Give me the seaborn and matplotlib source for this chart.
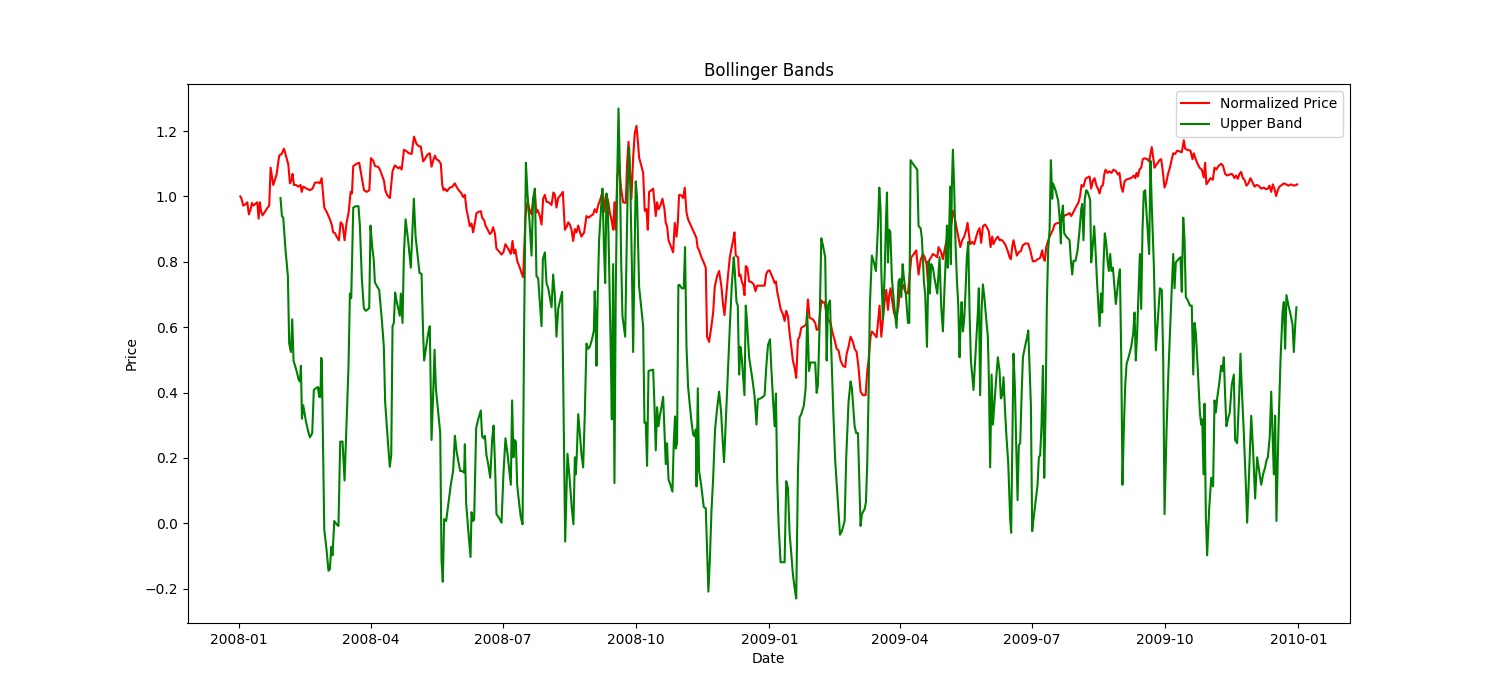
import matplotlib
matplotlib.use("Agg")
import matplotlib.pyplot as plt
import matplotlib.dates as mdates
import pandas as pd
import seaborn as sns

# ---- data: day offsets from 2008-01-01 and values ----
start_date = "2008-01-01"

red_days = [
    1.0, 1.8, 3.0, 4.8, 5.8, 6.9, 8.1, 9.0, 9.9, 11.3,
    12.7, 13.6, 14.5, 15.2, 16.3, 19.1, 20.9, 21.9, 23.7, 26.0,
    27.8, 29.5, 31.1, 32.4, 34.1, 35.2, 36.4, 37.0, 38.0, 39.3,
    41.0, 42.6, 43.3, 44.4, 46.7, 49.0, 50.8, 52.5, 54.8, 55.9,
    57.1, 58.9, 60.5, 62.8, 64.0, 65.1, 66.3, 67.4, 69.0, 70.2,
    71.5, 72.9, 74.3, 75.7, 77.1, 78.0, 78.9, 81.2, 83.0, 84.4,
    86.3, 88.1, 90.0, 91.1, 92.7, 93.9, 96.2, 97.3, 98.5, 100.1,
    101.0, 102.4, 104.2, 106.0, 107.6, 110.0, 111.1, 112.3, 113.9, 115.7,
    117.3, 119.2, 120.8,
    122.5, 124.2, 125.5, 127.1, 128.3, 130.1, 131.7, 132.9, 134.0, 135.2,
    136.3, 138.0, 139.3, 140.3, 141.2, 142.1, 143.5, 145.5, 147.1, 149.0,
    150.1, 151.7, 153.6, 154.7, 155.9, 157.0, 158.2, 159.3, 160.5, 161.6,
    162.8, 163.9, 165.5, 166.9, 167.8, 169.2, 170.1, 171.5, 173.1, 174.3,
    175.4, 176.6, 177.7, 179.3, 181.2, 182.5, 183.9, 185.8, 187.6, 188.8,
    189.7, 190.8, 192.0, 193.4, 195.0, 196.1, 196.8, 197.7, 199.1, 200.5,
    201.9, 203.0, 204.2, 205.1, 206.0, 207.6, 208.8, 209.9, 211.1, 212.2,
    213.8, 215.7, 217.0, 218.0, 219.1, 220.3, 222.1, 223.5, 224.9, 226.0,
    227.2, 228.3, 229.5, 230.6, 231.8, 232.9, 234.1, 235.2, 236.3, 238.2,
    239.8, 241.4,
    242.6, 244.4, 245.5, 246.7, 247.8, 249.5, 250.8, 252.0, 253.1, 254.7,
    255.9, 257.0, 258.2, 259.1, 260.0, 261.0, 262.3, 263.7, 265.1, 266.9,
    267.8, 268.8, 269.7, 270.8, 272.0, 273.1, 274.3, 275.4, 276.1, 277.7,
    278.9, 280.0, 281.2, 282.1, 283.0, 284.6, 285.8, 286.9, 287.6, 288.5,
    289.5, 290.8, 292.2, 293.6, 294.5, 295.4, 296.4, 297.7, 299.6, 300.7,
    301.9, 302.8, 303.7, 305.3, 306.5, 307.6, 308.8, 309.9, 311.5, 312.9,
    314.5, 315.7, 316.4, 317.5, 319.1, 320.7, 322.1, 323.0, 324.4, 326.0,
    327.2, 328.3, 329.9, 331.3, 332.9, 334.1, 335.0, 336.4, 337.5, 338.7,
    339.8, 341.0, 341.9, 342.8, 344.4, 345.1, 346.0, 346.9, 347.9, 348.8,
    349.7, 350.8, 352.0, 353.6, 355.2, 356.4, 357.5, 359.3, 361.6,
    362.7, 363.8, 365.0, 366.1, 367.3, 368.4, 369.6, 370.5, 371.4, 372.4,
    373.7, 375.3, 376.5, 377.6, 378.8, 379.9, 381.1, 382.2, 383.4, 384.5,
    385.7, 386.8, 388.0, 389.8, 391.4, 392.6, 393.7, 396.0, 397.6, 398.6,
    399.9, 401.8, 402.9, 404.1, 405.2, 406.4, 408.2, 409.6, 411.0, 412.4,
    413.7, 415.1, 416.7, 418.3, 419.3, 420.6, 422.0, 423.6, 424.8, 426.2,
    427.5, 428.9, 430.5, 432.4, 433.5, 434.4, 435.8, 436.7, 438.6, 439.9,
    440.9, 442.0, 443.2, 444.3, 445.5, 446.6, 447.8, 448.7, 449.6, 450.5,
    451.9, 453.5, 455.1, 456.0, 457.4, 458.3, 459.7, 461.6, 462.7, 463.9,
    465.7, 467.3, 468.9, 470.3, 471.9, 473.1, 474.4, 475.4, 476.3, 477.6,
    478.8, 480.4, 481.8, 482.7,
    484.5, 485.7, 486.8, 488.5, 489.8, 490.8, 491.7, 492.6, 493.7, 494.9,
    496.3, 497.7, 499.0, 500.4, 501.8, 502.7, 503.6, 504.5, 505.9, 507.3,
    508.7, 509.8, 511.0, 512.1, 513.3, 514.7, 516.0, 517.4, 518.6, 519.7,
    520.6, 522.0, 523.6, 524.8, 525.9, 527.5, 528.9, 530.3, 531.7, 532.6,
    533.5, 534.4, 535.4, 536.7, 538.1, 539.5, 540.9, 542.7, 544.5, 545.9,
    546.8, 547.8, 549.6, 551.2, 552.8, 554.2, 555.1, 556.0, 557.0, 558.1,
    559.3, 560.4, 561.6, 562.7, 563.9, 565.2, 566.6, 568.0, 569.6, 571.2,
    573.1, 574.2, 575.4, 576.7, 578.1, 579.3, 580.4, 581.3, 582.7, 584.1,
    585.5, 586.9, 588.0, 589.2, 590.3, 591.5, 592.8, 593.8, 594.9, 596.1,
    597.0, 597.9, 599.3, 600.6, 602.0, 603.4,
    605.2, 606.4, 607.5, 608.7, 609.8, 611.0, 612.1, 613.8, 615.6, 617.4,
    618.4, 619.3, 620.2, 621.3, 622.5, 623.6, 624.8, 626.6, 628.0, 628.9,
    629.8, 630.8, 631.7, 632.8, 634.0, 635.1, 636.3, 637.4, 638.6, 639.7,
    640.9, 642.3, 643.6, 644.6, 645.9, 647.3, 648.9, 650.5, 651.9, 652.8,
    654.7, 656.5, 657.9, 658.8, 659.7, 661.1, 662.7, 664.3, 665.7, 666.6,
    667.5, 668.9, 670.3, 671.9, 673.1, 674.4, 675.8, 677.7, 679.0, 680.4,
    681.8, 683.4, 685.0, 685.9, 686.9, 688.0, 689.2, 690.3, 691.5, 692.6,
    693.8, 695.1, 696.5, 697.9, 699.3, 700.7, 702.0, 703.4, 705.3, 707.1,
    708.7, 709.9, 711.0, 712.2, 713.3, 714.5, 715.6, 716.7, 717.9, 719.5,
    720.9, 722.5, 724.1, 725.9, 727.8, 729.4, 730.1,
]

red_values = [
    1.000, 0.993, 0.972, 0.977, 0.982, 0.945, 0.961, 0.980, 0.972, 0.977,
    0.982, 0.932, 0.982, 0.956, 0.942, 0.961, 0.972, 1.088, 1.035, 1.067,
    1.125, 1.130, 1.146, 1.125, 1.098, 1.040, 1.051, 1.069, 1.035, 1.035,
    1.030, 1.035, 1.014, 1.030, 1.024, 1.019, 1.024, 1.042, 1.043, 1.040,
    1.056, 0.966, 0.953, 0.930, 0.914, 0.890, 0.888, 0.877, 0.866, 0.921,
    0.914, 0.866, 0.919, 0.951, 1.014, 1.009, 1.093, 1.100, 1.103, 1.067,
    1.019, 1.014, 1.019, 1.117, 1.109, 1.093, 1.090, 1.082, 1.067, 1.048,
    1.019, 1.003, 0.995, 1.077, 1.095, 1.086, 1.090, 1.082, 1.143, 1.138,
    1.132, 1.130, 1.183,
    1.161, 1.153, 1.153, 1.107, 1.114, 1.128, 1.132, 1.091, 1.109, 1.125,
    1.114, 1.109, 1.100, 1.035, 1.019, 1.024, 1.016, 1.027, 1.029, 1.040,
    1.030, 1.019, 1.009, 0.998, 1.005, 0.961, 0.935, 0.909, 0.917, 0.890,
    0.919, 0.949, 0.953, 0.955, 0.935, 0.927, 0.911, 0.900, 0.885, 0.890,
    0.906, 0.887, 0.840, 0.833, 0.822, 0.829, 0.854, 0.840, 0.824, 0.864,
    0.826, 0.837, 0.803, 0.787, 0.766, 0.753, 0.835, 0.935, 0.982, 0.961,
    0.945, 0.993, 1.016, 0.951, 0.959, 0.940, 0.914, 0.993, 1.005, 0.984,
    0.982, 0.974, 1.012, 1.005, 0.966, 0.995, 1.005, 1.014, 0.898, 0.906,
    0.921, 0.914, 0.898, 0.864, 0.900, 0.890, 0.911, 0.893, 0.877, 0.890,
    0.940, 0.935,
    0.940, 0.945, 0.961, 0.951, 0.972, 0.993, 1.014, 0.953, 1.003, 0.988,
    0.951, 0.930, 0.898, 0.982, 0.898, 1.056, 1.098, 1.024, 0.982, 0.980,
    1.098, 1.167, 1.088, 0.993, 1.119, 1.193, 1.216, 1.162, 1.119, 1.093,
    1.072, 0.956, 0.961, 0.898, 1.014, 1.019, 1.024, 0.972, 0.940, 0.982,
    0.961, 0.972, 0.993, 0.961, 0.919, 0.909, 0.866, 0.851, 0.829, 0.919,
    0.877, 0.919, 1.005, 1.003, 0.995, 1.027, 0.951, 0.930, 0.914, 0.900,
    0.885, 0.872, 0.845, 0.835, 0.814, 0.798, 0.782, 0.571, 0.555, 0.603,
    0.645, 0.724, 0.756, 0.772, 0.724, 0.666, 0.637, 0.708, 0.761, 0.814,
    0.840, 0.866, 0.890, 0.819, 0.814, 0.756, 0.761, 0.740, 0.729, 0.698,
    0.787, 0.782, 0.740, 0.738, 0.731, 0.710, 0.727, 0.727, 0.727,
    0.727, 0.763, 0.772, 0.774, 0.761, 0.750, 0.735, 0.740, 0.708, 0.687,
    0.656, 0.640, 0.619, 0.650, 0.634, 0.582, 0.540, 0.498, 0.476, 0.445,
    0.561, 0.571, 0.598, 0.603, 0.608, 0.685, 0.629, 0.624, 0.613, 0.592,
    0.594, 0.682, 0.675, 0.677, 0.645, 0.624, 0.613, 0.582, 0.561, 0.534,
    0.529, 0.498, 0.482, 0.478, 0.519, 0.540, 0.571, 0.555, 0.534, 0.524,
    0.476, 0.403, 0.392, 0.392, 0.466, 0.498, 0.571, 0.587, 0.577, 0.569,
    0.613, 0.666, 0.571, 0.624, 0.677, 0.714, 0.653, 0.698, 0.719, 0.687,
    0.645, 0.624, 0.666, 0.714, 0.719, 0.729, 0.708, 0.703, 0.756, 0.814,
    0.824, 0.835, 0.761, 0.805, 0.824, 0.814, 0.793, 0.735, 0.805, 0.814,
    0.824, 0.819, 0.814, 0.845,
    0.829, 0.808, 0.835, 0.872, 0.877, 0.898, 0.919, 0.956, 0.940, 0.909,
    0.877, 0.845, 0.866, 0.877, 0.898, 0.919, 0.887, 0.854, 0.861, 0.854,
    0.877, 0.893, 0.903, 0.858, 0.909, 0.914, 0.906, 0.893, 0.845, 0.877,
    0.854, 0.868, 0.877, 0.866, 0.868, 0.861, 0.851, 0.835, 0.814, 0.808,
    0.845, 0.866, 0.845, 0.819, 0.829, 0.833, 0.851, 0.856, 0.856, 0.837,
    0.819, 0.801, 0.803, 0.808, 0.812, 0.835, 0.812, 0.803, 0.845, 0.861,
    0.877, 0.887, 0.898, 0.914, 0.917, 0.919, 0.919, 0.927, 0.942, 0.944,
    0.949, 0.940, 0.949, 0.961, 0.972, 0.982, 1.003, 1.035, 1.030, 1.054,
    1.058, 1.061, 1.024, 1.048, 1.056, 1.035, 1.022, 1.009, 1.030, 1.035,
    1.067, 1.082, 1.072, 1.077, 1.072, 1.082,
    1.077, 1.067, 1.072, 1.030, 1.014, 1.046, 1.051, 1.054, 1.056, 1.064,
    1.056, 1.072, 1.061, 1.082, 1.088, 1.114, 1.117, 1.114, 1.107, 1.130,
    1.151, 1.119, 1.088, 1.096, 1.103, 1.111, 1.114, 1.077, 1.027, 1.040,
    1.067, 1.088, 1.114, 1.132, 1.130, 1.140, 1.138, 1.135, 1.172, 1.146,
    1.142, 1.140, 1.114, 1.132, 1.119, 1.103, 1.088, 1.082, 1.058, 1.103,
    1.037, 1.046, 1.056, 1.051, 1.088, 1.082, 1.093, 1.100, 1.093, 1.069,
    1.064, 1.067, 1.069, 1.064, 1.056, 1.064, 1.054, 1.069, 1.075, 1.056,
    1.051, 1.033, 1.040, 1.056, 1.043, 1.030, 1.035, 1.033, 1.024, 1.027,
    1.022, 1.024, 1.033, 1.014, 1.037, 1.022, 1.001, 1.019, 1.030, 1.035,
    1.040, 1.037, 1.033, 1.037, 1.033, 1.035, 1.037,
]

green_days = [
    28.7, 29.7, 30.6, 32.0, 33.8, 34.7, 35.9, 36.8, 37.7, 39.8,
    41.2, 42.1, 42.8, 43.5, 44.4, 46.2, 47.8, 49.0, 50.6, 51.7,
    53.1, 54.5, 55.4, 55.9, 56.3, 56.8, 57.2, 58.9, 60.5, 61.8,
    62.8, 63.7, 64.6, 65.8, 67.4, 68.7, 69.9, 71.5, 72.9, 74.3,
    75.6, 76.6, 77.5, 78.9, 80.7, 82.5, 83.5, 84.8, 86.2, 87.6,
    89.9, 90.8, 92.0, 93.1, 93.8, 95.0, 96.8, 98.6, 100.0, 100.9,
    102.8, 104.1, 105.1, 106.0, 106.9, 107.8, 108.7, 109.9, 111.0, 111.7,
    112.9, 113.8, 115.0, 116.8, 118.6, 120.7,
    121.9, 123.2, 124.6, 126.0, 127.1, 127.8, 129.2, 130.6, 131.7, 132.9,
    134.0, 135.0, 135.9, 137.5, 138.9, 139.8, 140.7, 141.6, 143.0, 144.4,
    146.2, 147.8, 149.0, 150.1, 151.3, 152.7, 154.0, 155.4, 155.9, 156.8,
    158.2, 159.8, 160.5, 161.4, 162.3, 163.7, 165.1, 166.9, 167.8, 168.8,
    169.7, 170.8, 172.0, 173.4, 174.7, 175.7, 176.6, 177.7, 179.3, 181.2,
    182.5, 183.9, 185.3, 186.5, 187.6, 188.5, 189.4, 190.1, 191.1, 192.0,
    193.1, 194.5, 195.7, 196.8, 198.0, 199.1, 200.5, 201.9, 203.0, 204.2,
    205.3, 206.5, 207.6, 208.8, 209.7, 211.1, 212.2, 213.4, 214.5, 215.7,
    216.8, 218.0, 219.1, 220.3, 221.6, 223.0, 223.9, 225.1, 226.7, 228.3,
    229.5, 230.8, 231.8, 232.4, 233.1, 234.1, 235.2, 236.3, 237.5, 238.6,
    239.8, 241.0,
    242.1, 243.5, 244.9, 245.5, 246.2, 246.7, 247.6, 248.5, 249.5, 250.1,
    250.8, 251.8, 252.7, 253.6, 254.5, 255.4, 256.4, 257.3, 258.2, 259.1,
    260.0, 261.0, 261.9, 262.8, 263.7, 264.6, 266.5, 267.4, 268.3, 269.2,
    270.1, 271.1, 272.0, 272.9, 273.8, 274.7, 276.1, 277.7, 278.9, 279.8,
    280.7, 281.6, 282.6, 283.9, 285.8, 286.7, 287.6, 288.5, 289.5, 290.4,
    291.5, 292.7, 293.6, 294.5, 295.4, 296.4, 297.7, 299.1, 300.0, 300.9,
    301.4, 302.3, 303.2, 304.1, 305.5, 306.9, 307.8, 308.8, 309.9, 311.1,
    312.2, 313.4, 314.5, 315.2, 315.7, 316.6, 317.5, 318.9, 320.7, 322.1,
    323.0, 323.9, 324.9, 326.0, 327.2, 328.5, 329.9, 331.3, 332.7, 333.6,
    334.7, 335.9, 337.3, 338.7, 340.0, 341.4, 342.1, 343.3, 344.2, 345.1,
    346.0, 346.9, 347.9, 348.8, 349.7, 350.6, 352.0, 353.1, 354.3, 355.7,
    357.1, 358.0, 359.8, 361.6,
    362.7, 363.8, 365.0, 366.4, 367.3, 368.4, 369.6, 370.5, 371.4, 372.4,
    373.7, 375.6, 376.5, 377.6, 378.8, 379.9, 381.1, 382.2, 383.4, 384.5,
    385.7, 386.8, 388.0, 389.8, 391.0, 392.1, 393.3, 394.4, 396.0, 397.6,
    398.6, 399.5, 400.6, 401.8, 402.9, 404.5, 405.5, 406.4, 407.8, 408.7,
    410.1, 411.4, 413.3, 414.7, 416.0, 417.9, 419.0, 420.6, 422.0, 422.9,
    424.8, 425.9, 427.1, 428.9, 429.8, 431.7, 432.6, 433.5, 434.4, 435.3,
    436.7, 438.1, 439.5, 440.9, 441.8, 442.7, 443.2, 444.3, 445.5, 446.4,
    447.1, 447.8, 448.5, 449.4, 450.5, 451.9, 453.7, 455.1, 456.0, 457.0,
    457.9, 458.8, 460.2, 461.6, 462.5, 463.4, 465.0, 468.0, 468.9, 470.3,
    471.2, 472.6, 473.5, 474.7, 475.8, 476.7, 477.6, 478.8, 479.9, 481.8,
    483.4, 484.5, 485.7, 486.8, 488.0, 488.5, 489.1, 489.8, 490.8, 491.2,
    491.9, 492.6, 493.5, 494.4, 495.4, 496.3, 497.2, 497.9, 498.6, 499.5,
    500.4, 501.3, 502.2, 503.2, 504.1, 505.0, 505.9, 506.8, 507.8, 508.7,
    509.8, 510.5, 511.4, 512.4, 513.3, 514.4, 515.6, 516.7, 517.4, 518.3,
    519.3, 520.2, 521.3, 522.5, 523.6, 524.8, 525.7, 526.6, 527.5, 528.5,
    529.4, 530.8, 532.1, 532.8, 533.5, 534.4, 535.4, 536.3, 537.2, 538.1,
    539.0, 540.0, 540.9, 542.3, 543.6, 544.6, 545.5, 546.4, 547.3, 548.2,
    549.6, 551.0, 551.9, 552.8, 553.7, 554.7, 555.6, 556.5, 557.4, 558.3,
    559.3, 560.2, 561.1, 561.6, 562.5, 563.4, 564.3, 565.2, 566.2, 567.1,
    567.5, 568.5, 569.4, 570.8, 571.9, 573.1, 574.0, 574.9, 575.8, 577.2,
    578.6, 580.0, 581.1, 581.8, 582.7, 583.6, 584.6, 585.5, 586.4, 587.3,
    588.0, 589.2, 590.1, 591.0, 591.9, 592.8, 593.8, 594.7, 595.6, 596.5,
    597.4, 598.4, 599.3, 600.2, 601.1, 602.0, 603.0,
    605.0, 605.9, 606.9, 607.8, 608.7, 609.6, 610.5, 611.5, 612.4, 613.8,
    615.6, 617.0, 617.9, 618.8, 619.7, 620.7, 621.6, 622.5, 623.4, 624.3,
    625.2, 626.6, 628.0, 628.9, 629.8, 631.2, 632.6, 634.0, 635.4, 636.7,
    637.7, 638.6, 640.0, 641.3, 642.7, 643.6, 644.6, 645.5, 646.4, 648.2,
    649.6, 650.5, 651.5, 652.4, 653.3, 654.7, 656.1, 657.4, 658.4, 659.3,
    660.2, 661.6, 663.0, 663.9, 664.6, 665.5, 666.2, 667.1, 668.0, 669.4,
    670.8, 672.1, 673.1, 674.0, 674.9, 676.5, 677.7, 678.6, 679.5, 680.4,
    681.3, 682.3, 683.6, 685.0, 686.4, 687.3, 688.7, 690.1, 691.0, 691.9,
    693.3, 694.7, 695.6, 697.0, 698.4, 699.7, 701.1, 702.5, 703.9, 705.3,
    706.6, 708.0, 708.9, 709.9, 711.2, 712.2, 713.1, 714.0, 714.9, 715.8,
    717.2, 718.6, 720.0, 720.9, 721.8, 722.7, 724.1, 725.5, 726.9, 727.8,
    728.7, 729.6,
]

green_values = [
    0.995, 0.940, 0.935, 0.845, 0.756, 0.550, 0.524, 0.624, 0.498, 0.466,
    0.440, 0.434, 0.482, 0.320, 0.361, 0.313, 0.281, 0.263, 0.276, 0.408,
    0.413, 0.417, 0.387, 0.413, 0.387, 0.506, 0.498, -0.019, -0.082, -0.145,
    -0.140, -0.072, -0.098, 0.007, -0.003, -0.008, 0.250, 0.250, 0.131, 0.308,
    0.476, 0.703, 0.689, 0.966, 0.970, 0.970, 0.909, 0.750, 0.658, 0.650,
    0.658, 0.911, 0.845, 0.803, 0.738, 0.727, 0.714, 0.624, 0.540, 0.371,
    0.250, 0.173, 0.208, 0.603, 0.613, 0.706, 0.682, 0.658, 0.635, 0.703,
    0.613, 0.819, 0.930, 0.864, 0.782, 0.993,
    0.877, 0.824, 0.766, 0.763, 0.582, 0.498, 0.540, 0.582, 0.603, 0.255,
    0.392, 0.531, 0.413, 0.339, 0.276, -0.114, -0.179, 0.013, 0.007, 0.055,
    0.118, 0.160, 0.268, 0.223, 0.192, 0.160, 0.160, 0.155, 0.242, 0.060,
    -0.019, -0.103, 0.034, 0.007, 0.011, 0.292, 0.318, 0.345, 0.266, 0.260,
    0.268, 0.208, 0.181, 0.139, 0.255, 0.299, 0.192, 0.028, 0.018, 0.002,
    0.150, 0.260, 0.213, 0.165, 0.118, 0.376, 0.202, 0.255, 0.250, 0.118,
    0.071, 0.018, -0.003, 0.603, 1.103, 1.009, 0.924, 0.819, 0.993, 1.024,
    0.756, 0.750, 0.677, 0.603, 0.808, 0.829, 0.735, 0.719, 0.692, 0.661,
    0.761, 0.696, 0.571, 0.656, 0.682, 0.708, 0.392, -0.056, 0.213, 0.129,
    0.055, -0.003, 0.202, 0.150, 0.208, 0.334, 0.276, 0.213, 0.171, 0.329,
    0.550, 0.534,
    0.540, 0.561, 0.590, 0.710, 0.603, 0.482, 0.708, 0.866, 0.940, 0.982,
    1.024, 0.856, 0.735, 1.009, 0.982, 0.793, 0.561, 0.318, 0.793, 0.123,
    0.708, 1.056, 1.269, 1.088, 0.814, 0.635, 0.571, 0.814, 1.035, 1.151,
    1.024, 0.793, 0.524, 0.803, 1.046, 0.993, 0.724, 0.656, 0.603, 0.308,
    0.308, 0.176, 0.466, 0.468, 0.470, 0.361, 0.223, 0.355, 0.297, 0.329,
    0.355, 0.387, 0.287, 0.181, 0.245, 0.134, 0.118, 0.097, 0.245, 0.327,
    0.229, 0.245, 0.729, 0.729, 0.719, 0.719, 0.845, 0.540, 0.418, 0.361,
    0.313, 0.271, 0.266, 0.287, 0.113, 0.413, 0.160, 0.118, 0.050, 0.046,
    -0.077, -0.209, -0.114, 0.034, 0.139, 0.287, 0.350, 0.403, 0.339, 0.266,
    0.187, 0.308, 0.455, 0.603, 0.724, 0.814, 0.772, 0.677, 0.666, 0.455,
    0.540, 0.508, 0.445, 0.392, 0.666, 0.613, 0.508, 0.476, 0.440, 0.392,
    0.302, 0.379, 0.382, 0.387,
    0.392, 0.476, 0.545, 0.563, 0.476, 0.387, 0.297, 0.397, 0.129, -0.008,
    -0.119, -0.119, -0.119, 0.129, 0.108, -0.029, -0.093, -0.156, -0.198, -0.230,
    0.160, 0.324, 0.334, 0.361, 0.413, 0.645, 0.466, 0.492, 0.492, 0.492,
    0.399, 0.424, 0.603, 0.872, 0.851, 0.814, 0.498, 0.666, 0.682, 0.529,
    0.339, 0.192, 0.060, -0.035, -0.024, 0.007, 0.202, 0.371, 0.434, 0.413,
    0.297, 0.276, 0.276, -0.008, 0.028, 0.044, 0.065, 0.181, 0.392, 0.666,
    0.819, 0.798, 0.772, 0.909, 1.027, 0.961, 0.772, 0.624, 0.761, 0.919,
    1.012, 0.798, 0.898, 0.893, 0.750, 0.677, 0.598, 0.740, 0.748, 0.692,
    0.793, 0.750, 0.698, 0.613, 0.613, 1.111, 1.100, 1.082, 0.909, 0.903,
    0.872, 0.740, 0.698, 0.540, 0.803, 0.703, 0.793, 0.782, 0.750, 0.703,
    0.814, 0.666, 0.587, 0.719, 0.845, 0.911, 0.782, 0.866, 1.030, 0.793,
    1.035, 1.143, 1.024, 0.856, 0.740, 0.666, 0.508, 0.613, 0.677, 0.587,
    0.624, 0.708, 0.814, 0.861, 0.645, 0.498, 0.455, 0.408, 0.487, 0.561,
    0.645, 0.719, 0.392, 0.656, 0.731, 0.687, 0.624, 0.571, 0.445, 0.171,
    0.455, 0.302, 0.371, 0.445, 0.508, 0.466, 0.382, 0.392, 0.447, 0.350,
    0.276, 0.181, 0.013, -0.029, 0.202, 0.519, 0.413, 0.234, 0.071, 0.239,
    0.245, 0.392, 0.508, 0.540, 0.566, 0.590, 0.476, 0.361, -0.024, 0.013,
    0.065, 0.118, 0.202, 0.208, 0.297, 0.482, 0.139, 0.339, 0.666, 0.835,
    0.898, 1.111, 0.993, 1.040, 1.030, 1.019, 1.003, 0.988, 0.935, 0.856,
    0.940, 0.972, 0.887, 0.877, 0.872, 0.866, 0.803, 0.761, 0.803, 0.803,
    0.835, 0.898, 0.961, 0.977, 0.866, 0.993, 1.019, 1.014, 1.003, 0.988,
    0.798, 0.856, 0.909, 0.835, 0.750, 0.677, 0.603, 0.703, 0.645, 0.793,
    0.887, 0.856, 0.803, 0.772, 0.824, 0.772, 0.782,
    0.671, 0.708, 0.750, 0.777, 0.519, 0.118, 0.287, 0.424, 0.487, 0.508,
    0.540, 0.582, 0.645, 0.498, 0.582, 0.708, 0.824, 0.656, 0.898, 1.014,
    1.019, 0.919, 0.824, 1.109, 0.972, 0.793, 0.529, 0.624, 0.719, 0.714,
    0.498, 0.028, 0.287, 0.466, 0.624, 0.719, 0.824, 0.719, 0.798, 0.808,
    0.814, 0.708, 0.935, 0.866, 0.692, 0.682, 0.666, 0.666, 0.455, 0.613,
    0.582, 0.466, 0.339, 0.302, 0.318, 0.150, 0.366, 0.023, -0.098, 0.044,
    0.139, 0.113, 0.376, 0.339, 0.382, 0.434, 0.482, 0.466, 0.508, 0.392,
    0.297, 0.318, 0.339, 0.424, 0.455, 0.255, 0.245, 0.392, 0.519, 0.413,
    0.276, 0.118, 0.002, 0.160, 0.329, 0.223, 0.076, 0.202, 0.160, 0.118,
    0.150, 0.171, 0.192, 0.202, 0.266, 0.403, 0.276, 0.150, 0.329, 0.007,
    0.287, 0.498, 0.645, 0.677, 0.534, 0.698, 0.666, 0.640, 0.608, 0.524,
    0.603, 0.661,
]

series_labels = ["Normalized Price", "Upper Band"]
series_colors = ["red", "green"]
title_text = "Bollinger Bands"
x_label = "Date"
y_label = "Price"

# ---- build frames ----
base = pd.Timestamp(start_date)
red_df = pd.DataFrame({
    "Date": base + pd.to_timedelta(red_days, unit="D"),
    "Price": red_values,
})
green_df = pd.DataFrame({
    "Date": base + pd.to_timedelta(green_days, unit="D"),
    "Price": green_values,
})

# ---- plot ----
fig, ax = plt.subplots(figsize=(15, 7), dpi=100)
sns.lineplot(data=red_df, x="Date", y="Price", color=series_colors[0],
             label=series_labels[0], estimator=None, sort=False, ax=ax,
             linewidth=1.5)
sns.lineplot(data=green_df, x="Date", y="Price", color=series_colors[1],
             label=series_labels[1], estimator=None, sort=False, ax=ax,
             linewidth=1.5)

ax.xaxis.set_major_locator(mdates.MonthLocator(bymonth=[1, 4, 7, 10]))
ax.xaxis.set_major_formatter(mdates.DateFormatter("%Y-%m"))
ax.set_title(title_text)
ax.set_xlabel(x_label)
ax.set_ylabel(y_label)
ax.legend(loc="upper right")

fig.subplots_adjust(left=0.125, right=0.9, bottom=0.11, top=0.88)
fig.savefig("out.png", dpi=100)
